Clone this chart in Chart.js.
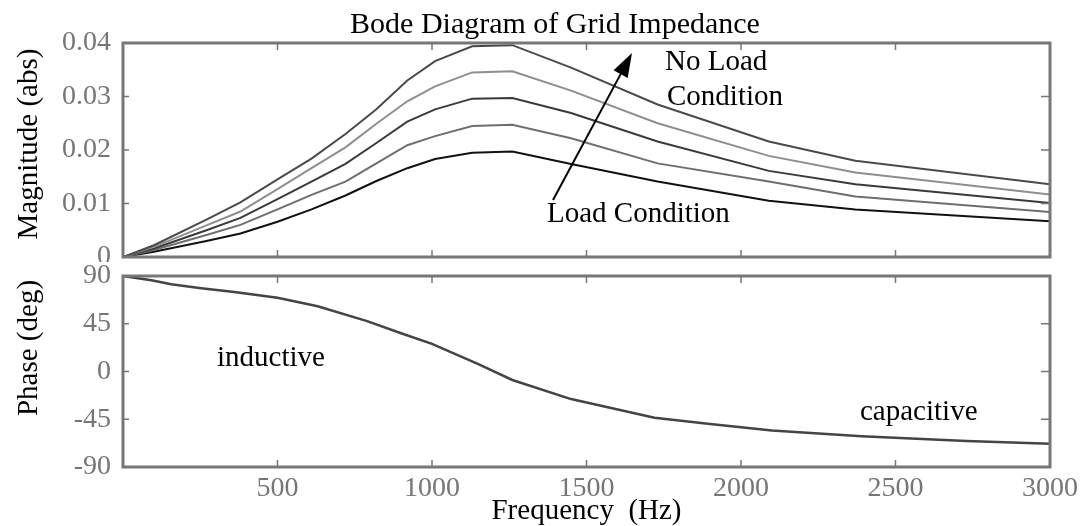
<!DOCTYPE html>
<html>
<head>
<meta charset="utf-8">
<script src="https://cdn.jsdelivr.net/npm/chart.js@4"></script>
<style>
  html, body { margin: 0; padding: 0; background: #fff; }
  #wrapMag { position: absolute; left: 0; top: 0; width: 1080px; height: 262px; }
  #wrapPhase { position: absolute; left: 0; top: 262px; width: 1080px; height: 264px; }
</style>
</head>
<body>
<div id="wrapMag"><canvas id="chartMag"></canvas></div>
<div id="wrapPhase"><canvas id="chartPhase"></canvas></div>
<script>
// Bode diagram: magnitude curves from no load down to full load, then the phase

const freqMag = [0, 100, 270, 380, 500, 610, 720, 820, 920, 1010, 1130, 1260, 1450, 1730, 2090, 2370, 3000];
const magNoLoad = [0, 0.0022, 0.0070, 0.0102, 0.0145, 0.0184, 0.0230, 0.0276, 0.0330, 0.0366, 0.0394, 0.0396, 0.0354, 0.0285, 0.0216, 0.0180, 0.0136];
const magLoad1 = [0, 0.0019, 0.0059, 0.0085, 0.0127, 0.0166, 0.0205, 0.0249, 0.0291, 0.0319, 0.0345, 0.0347, 0.0311, 0.0250, 0.0189, 0.0158, 0.0117];
const magLoad2 = [0, 0.0016, 0.0050, 0.0073, 0.0108, 0.0141, 0.0174, 0.0213, 0.0253, 0.0276, 0.0296, 0.0297, 0.0269, 0.0216, 0.0161, 0.0136, 0.0101];
const magLoad3 = [0, 0.0013, 0.0041, 0.0060, 0.0089, 0.0116, 0.0141, 0.0175, 0.0209, 0.0226, 0.0245, 0.0247, 0.0222, 0.0175, 0.0141, 0.0113, 0.0084];
const magFullLoad = [0, 0.0010, 0.0030, 0.0044, 0.0066, 0.0089, 0.0115, 0.0142, 0.0166, 0.0183, 0.0195, 0.0197, 0.0174, 0.0141, 0.0105, 0.0089, 0.0067];

const freqPhase = [0, 48, 92, 156, 253, 360, 500, 630, 790, 900, 1000, 1150, 1260, 1450, 1720, 1900, 2100, 2390, 2730, 3000];
const phaseDeg = [90, 87.8, 86, 82.3, 78.5, 75, 69.5, 61.5, 47.5, 36, 26, 7, -8, -26, -43.5, -49.5, -55.5, -61, -65.5, -68];

const xTicks = [500, 1000, 1500, 2000, 2500, 3000];
const magTicks = [0, 0.01, 0.02, 0.03, 0.04];
const phaseTicks = [-90, -45, 0, 45, 90];

const serif = "'Liberation Serif', 'Times New Roman', serif";
const tickGray = "#767676";
const boxGray = "#777";

function pts(xs, ys) {
  return xs.map((x, i) => ({ x: x, y: ys[i] }));
}

// box around the plot + small ticks pointing inwards
const framePlugin = {
  id: "frame",
  afterDraw(chart, args, opts) {
    const c = chart.ctx;
    const a = chart.chartArea;
    const xs = chart.scales.x, ys = chart.scales.y;
    c.save();
    c.strokeStyle = boxGray;
    c.lineWidth = 1.5;
    c.beginPath();
    xTicks.forEach(v => {
      const px = xs.getPixelForValue(v);
      if (px >= a.right - 1) return;
      c.moveTo(px, a.top); c.lineTo(px, a.top + 7);
      c.moveTo(px, a.bottom); c.lineTo(px, a.bottom - 7);
    });
    opts.yTicks.forEach(v => {
      const py = ys.getPixelForValue(v);
      if (py <= a.top + 1 || py >= a.bottom - 1) return;
      c.moveTo(a.left, py); c.lineTo(a.left + 6, py);
      c.moveTo(a.right, py); c.lineTo(a.right - 9, py);
    });
    c.stroke();
    c.lineWidth = 3;
    c.strokeRect(a.left, a.top, a.right - a.left, a.bottom - a.top);
    c.restore();
  }
};

// free text, rotated axis titles and the arrow
const notesPlugin = {
  id: "notes",
  afterDraw(chart, args, opts) {
    const c = chart.ctx;
    c.save();
    c.fillStyle = "#000";
    (opts.texts || []).forEach(t => {
      c.save();
      c.font = (t.size || 29) + "px " + serif;
      c.textAlign = t.align || "left";
      c.textBaseline = t.baseline || "alphabetic";
      c.translate(t.x, t.y);
      if (t.rotate) c.rotate(t.rotate);
      c.fillText(t.text, 0, 0);
      c.restore();
    });
    if (opts.arrow) {
      const [x0, y0, x1, y1] = opts.arrow;
      const ang = Math.atan2(y1 - y0, x1 - x0);
      const len = 24, half = 8;
      const bx = x1 - len * Math.cos(ang), by = y1 - len * Math.sin(ang);
      c.strokeStyle = "#000";
      c.lineWidth = 2;
      c.beginPath();
      c.moveTo(x0, y0); c.lineTo(bx, by);
      c.stroke();
      c.beginPath();
      c.moveTo(x1, y1);
      c.lineTo(bx + half * Math.sin(ang), by - half * Math.cos(ang));
      c.lineTo(bx - half * Math.sin(ang), by + half * Math.cos(ang));
      c.closePath();
      c.fill();
    }
    c.restore();
  }
};

Chart.register(framePlugin, notesPlugin);

function lineSet(data, color, w) {
  return {
    data: data,
    borderColor: color,
    borderWidth: w || 2,
    pointRadius: 0,
    tension: 0,
    fill: false
  };
}

// keep the plot box where it is, tick labels may hang over the edges
function fixY(s) {
  s.width = 123;
  s.paddingTop = 0;
  s.paddingBottom = 0;
}

new Chart(document.getElementById("chartMag"), {
  type: "line",
  data: {
    datasets: [
      lineSet(pts(freqMag, magNoLoad), "#4a4a4a"),
      lineSet(pts(freqMag, magLoad1), "#8e8e8e"),
      lineSet(pts(freqMag, magLoad2), "#3a3a3a"),
      lineSet(pts(freqMag, magLoad3), "#6e6e6e"),
      lineSet(pts(freqMag, magFullLoad), "#111111")
    ]
  },
  options: {
    responsive: true,
    maintainAspectRatio: false,
    animation: false,
    layout: { padding: { top: 43, right: 30, bottom: 5, left: 0 } },
    plugins: {
      legend: { display: false },
      tooltip: { enabled: false },
      frame: { yTicks: magTicks },
      notes: {
        texts: [
          { text: "Bode Diagram of Grid Impedance", x: 555, y: 33, align: "center", size: 30 },
          { text: "Magnitude (abs)", x: 29, y: 144, align: "center", baseline: "middle", rotate: -Math.PI / 2 },
          { text: "No Load", x: 665, y: 70 },
          { text: "Condition", x: 667, y: 105 },
          { text: "Load Condition", x: 547, y: 222 }
        ],
        arrow: [553, 200, 632, 53]
      }
    },
    scales: {
      x: { type: "linear", min: 0, max: 3000, display: false },
      y: {
        min: 0,
        max: 0.04,
        afterFit: fixY,
        afterBuildTicks(s) { s.ticks = magTicks.map(v => ({ value: v })); },
        grid: { display: false, drawTicks: false },
        border: { display: false },
        ticks: {
          color: tickGray,
          padding: 12,
          font: { family: serif, size: 28 },
          callback: v => String(v)
        }
      }
    }
  }
});

new Chart(document.getElementById("chartPhase"), {
  type: "line",
  data: {
    datasets: [lineSet(pts(freqPhase, phaseDeg), "#444444", 2.5)]
  },
  options: {
    responsive: true,
    maintainAspectRatio: false,
    animation: false,
    layout: { padding: { top: 14, right: 30, bottom: 0, left: 0 } },
    plugins: {
      legend: { display: false },
      tooltip: { enabled: false },
      frame: { yTicks: phaseTicks },
      notes: {
        texts: [
          { text: "Phase (deg)", x: 29, y: 86, align: "center", baseline: "middle", rotate: -Math.PI / 2 },
          { text: "inductive", x: 217, y: 104 },
          { text: "capacitive", x: 860, y: 158 }
        ]
      }
    },
    scales: {
      x: {
        type: "linear",
        min: 0,
        max: 3000,
        afterFit(s) {
          s.height = 59;
          s.paddingLeft = 0;
          s.paddingRight = 0;
        },
        afterBuildTicks(s) { s.ticks = xTicks.map(v => ({ value: v })); },
        grid: { display: false, drawTicks: false },
        border: { display: false },
        ticks: {
          color: tickGray,
          padding: 5,
          maxRotation: 0,
          autoSkip: false,
          font: { family: serif, size: 28 },
          callback: v => String(v)
        },
        title: {
          display: true,
          text: "Frequency  (Hz)",
          color: "#000",
          padding: 0,
          font: { family: serif, size: 29, lineHeight: 1 }
        }
      },
      y: {
        min: -90,
        max: 90,
        afterFit: fixY,
        afterBuildTicks(s) { s.ticks = phaseTicks.map(v => ({ value: v })); },
        grid: { display: false, drawTicks: false },
        border: { display: false },
        ticks: {
          color: tickGray,
          padding: 12,
          font: { family: serif, size: 28 },
          callback: v => String(v)
        }
      }
    }
  }
});
</script>
</body>
</html>
